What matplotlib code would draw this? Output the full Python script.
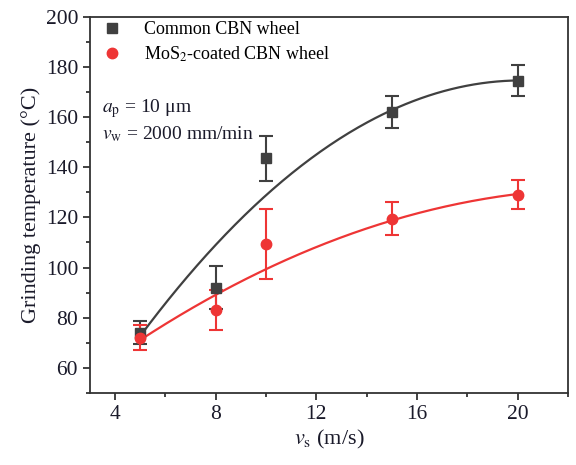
import numpy as np
import matplotlib
matplotlib.use("Agg")
import matplotlib.pyplot as plt
from matplotlib.ticker import MultipleLocator
from matplotlib.lines import Line2D

plt.rcParams['font.family'] = ['Liberation Serif', 'DejaVu Serif']
plt.rcParams['mathtext.fontset'] = 'stix'

vs = [5, 8, 10, 15, 20]
common_T = [74, 92, 143.5, 162, 174.5]
common_err = [4.5, 8.7, 9, 6.3, 6.2]
mos2_T = [72, 83, 109.5, 119.5, 129]
mos2_err = [5, 8, 14, 6.7, 5.8]

black = '#404040'
red = '#ee3535'
txt = '#1a1a2a'

fig = plt.figure(figsize=(5.76, 4.65), dpi=100)
ax = fig.add_axes([0.156, 0.155, 0.83, 0.809])

xf = np.linspace(min(vs), max(vs), 200)
pb = np.polyfit(vs, common_T, 2, w=1/np.array(common_err))
pr = np.polyfit(vs, mos2_T, 2, w=1/np.array(mos2_err))
ax.plot(xf, np.polyval(pb, xf), color=black, lw=1.6, zorder=2)
ax.plot(xf, np.polyval(pr, xf), color=red, lw=1.6, zorder=2)

ax.errorbar(vs, common_T, yerr=common_err, fmt='s', color=black, ms=6.5,
            capsize=5, elinewidth=1.5, capthick=1.5, zorder=3)
ax.errorbar(vs, mos2_T, yerr=mos2_err, fmt='o', color=red, ms=7.5,
            capsize=5, elinewidth=1.5, capthick=1.5, zorder=3)

ax.set_xlim(3, 22)
ax.set_ylim(50, 200)
ax.xaxis.set_major_locator(MultipleLocator(4))
ax.xaxis.set_minor_locator(MultipleLocator(2))
ax.yaxis.set_major_locator(MultipleLocator(20))
ax.yaxis.set_minor_locator(MultipleLocator(10))
ax.tick_params(which='both', direction='out', width=1.3, colors='#333333',
               labelcolor=txt, labelsize=15.5)
ax.tick_params(which='major', length=5)
ax.tick_params(which='minor', length=3)
for s in ax.spines.values():
    s.set_linewidth(1.3)
    s.set_color('#333333')

ax.set_xlabel('$v_\\mathrm{s}$ (m/s)', fontsize=16, color=txt, labelpad=3)
ax.set_ylabel('Grinding temperature (°C)', fontsize=16, color=txt, labelpad=3)

handles = [Line2D([], [], marker='s', ls='none', color=black, ms=6.5),
           Line2D([], [], marker='o', ls='none', color=red, ms=7.5)]
labels = ['Common CBN wheel', 'MoS$_2$-coated CBN wheel']
ax.legend(handles, labels, loc='upper left', bbox_to_anchor=(0.0, 1.012),
          frameon=False, fontsize=13, handletextpad=1.0, borderaxespad=0.2,
          labelspacing=0.35, handlelength=1.5, borderpad=0.3)

ax.text(0.025, 0.745, '$a_\\mathrm{p}$ = 10 μm', transform=ax.transAxes,
        fontsize=14, color=txt)
ax.text(0.025, 0.675, '$v_\\mathrm{w}$ = 2000 mm/min', transform=ax.transAxes,
        fontsize=14, color=txt)

fig.savefig('out.png', dpi=100)
